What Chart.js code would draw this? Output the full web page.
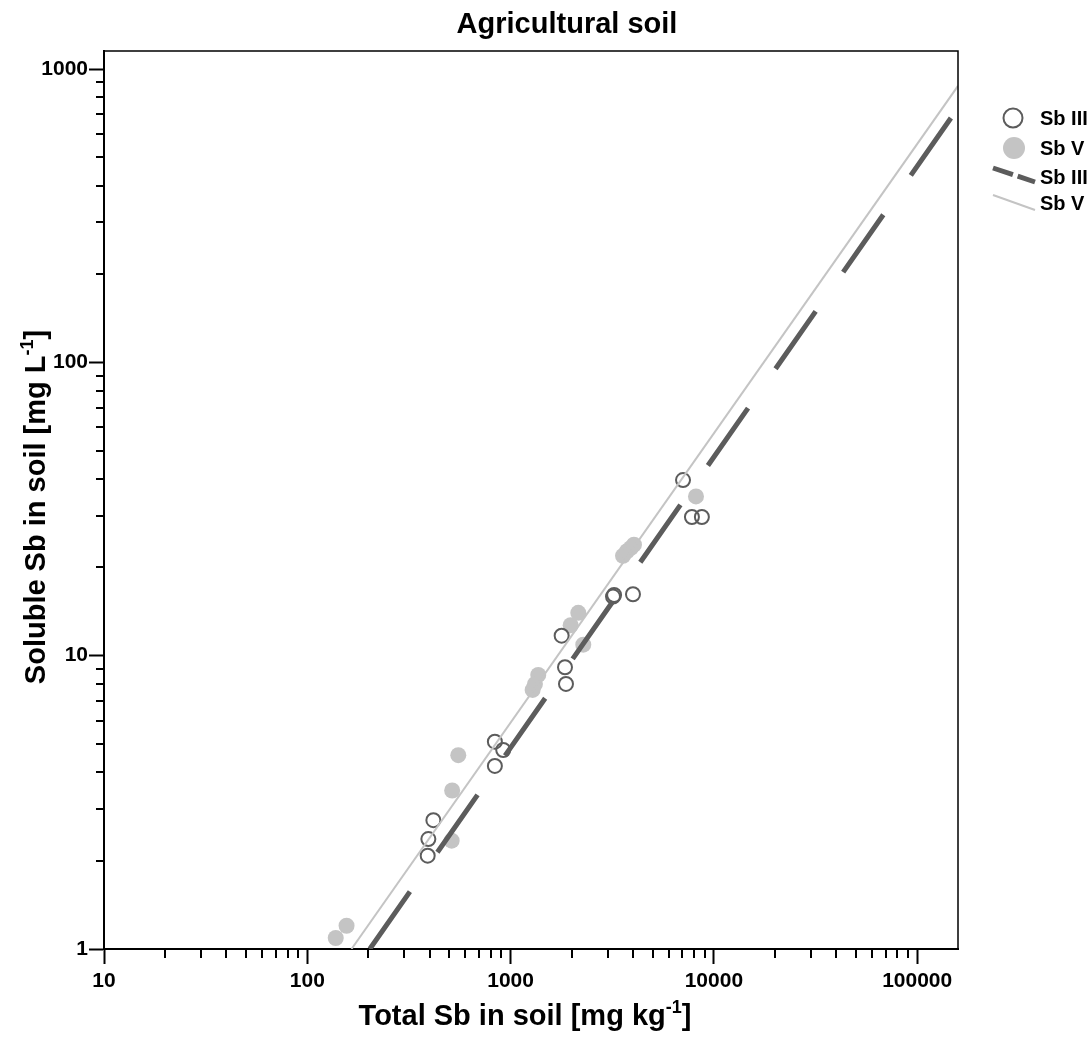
<!DOCTYPE html>
<html>
<head>
<meta charset="utf-8">
<title>Agricultural soil</title>
<script src="https://cdn.jsdelivr.net/npm/chart.js@4/dist/chart.umd.min.js"></script>
<style>
  html, body { margin: 0; padding: 0; background: #fff; }
  #wrap { width: 1092px; height: 1041px; position: relative; }
</style>
</head>
<body>
<div id="wrap"><canvas id="soilChart"></canvas></div>
<script>
// Sb III measured points (open circles)
const sb3Total = [7050, 7800, 8730, 3190, 3230, 4000, 1783, 1852, 1873, 837, 920, 837, 417, 394, 391];
const sb3Soluble = [39.7, 29.7, 29.7, 15.9, 16.1, 16.2, 11.7, 9.13, 8.01, 5.09, 4.77, 4.21, 2.75, 2.37, 2.08];

// Sb V measured points (filled grey)
const sb5Total = [8165, 3573, 3737, 3909, 4045, 2153, 1975, 2278, 1368, 1318, 1284, 553, 516, 513, 156, 138];
const sb5Soluble = [34.9, 21.9, 22.7, 23.3, 23.9, 14.0, 12.7, 10.9, 8.6, 8.0, 7.64, 4.58, 3.47, 2.34, 1.20, 1.09];

// regression lines (end points)
const fit3Total = [203, 158800];
const fit3Soluble = [1, 737];
const fit5Total = [165, 158800];
const fit5Soluble = [1, 876];

// axis ticks
const xTickLabels = [10, 100, 1000, 10000, 100000];
const yTickLabels = [1, 10, 100, 1000];
const X_MIN = 10, X_MAX = 158800;
const Y_MIN = 1, Y_MAX = 1152;

const FONT = "'Liberation Sans', Arial, sans-serif";
const DARK = '#5c5c5c';
const LIGHT = '#c4c4c4';

function pts(xs, ys) {
    return xs.map((x, i) => ({ x: x, y: ys[i] }));
}

function logTicks(majors, max) {
    const out = [];
    majors.forEach(m => {
        out.push({ value: m, major: true });
        for (let k = 2; k <= 9; k++) {
            if (m * k <= max) out.push({ value: m * k, major: false });
        }
    });
    return out.sort((a, b) => a.value - b.value);
}

// minor ticks, frame, titles and legend
const decorPlugin = {
    id: 'decor',
    afterDraw(chart) {
        const ctx = chart.ctx;
        const area = chart.chartArea;
        const xs = chart.scales.x, ys = chart.scales.y;
        ctx.save();

        // minor ticks
        ctx.strokeStyle = '#000';
        ctx.lineWidth = 2;
        xs.ticks.forEach(t => {
            if (xTickLabels.includes(t.value)) return;
            const px = Math.round(xs.getPixelForValue(t.value));
            ctx.beginPath();
            ctx.moveTo(px, area.bottom);
            ctx.lineTo(px, area.bottom + 9);
            ctx.stroke();
        });
        ys.ticks.forEach(t => {
            if (yTickLabels.includes(t.value)) return;
            const py = Math.round(ys.getPixelForValue(t.value));
            ctx.beginPath();
            ctx.moveTo(area.left, py);
            ctx.lineTo(area.left - 8, py);
            ctx.stroke();
        });

        // top and right frame
        ctx.lineWidth = 1.5;
        ctx.beginPath();
        ctx.moveTo(area.left, area.top);
        ctx.lineTo(area.right, area.top);
        ctx.lineTo(area.right, area.bottom);
        ctx.stroke();

        // chart title
        ctx.fillStyle = '#000';
        ctx.font = 'bold 29px ' + FONT;
        ctx.textAlign = 'center';
        ctx.textBaseline = 'alphabetic';
        ctx.fillText('Agricultural soil', 567, 33);

        // axis titles with superscript
        function supTitle(main, sup, tail, cx, baseY) {
            ctx.font = 'bold 29px ' + FONT;
            const w1 = ctx.measureText(main).width;
            const w3 = ctx.measureText(tail).width;
            ctx.font = 'bold 18px ' + FONT;
            const w2 = ctx.measureText(sup).width;
            let x0 = cx - (w1 + w2 + w3) / 2;
            ctx.textAlign = 'left';
            ctx.font = 'bold 29px ' + FONT;
            ctx.fillText(main, x0, baseY);
            ctx.font = 'bold 18px ' + FONT;
            ctx.fillText(sup, x0 + w1, baseY - 12);
            ctx.font = 'bold 29px ' + FONT;
            ctx.fillText(tail, x0 + w1 + w2, baseY);
        }
        supTitle('Total Sb in soil [mg kg', '-1', ']', 525, 1025);
        ctx.save();
        ctx.translate(45, 507);
        ctx.rotate(-Math.PI / 2);
        supTitle('Soluble Sb in soil [mg L', '-1', ']', 0, 0);
        ctx.restore();

        // legend
        ctx.strokeStyle = DARK;
        ctx.lineWidth = 2;
        ctx.beginPath();
        ctx.arc(1013, 118, 9.5, 0, Math.PI * 2);
        ctx.stroke();
        ctx.fillStyle = LIGHT;
        ctx.beginPath();
        ctx.arc(1014, 148, 11, 0, Math.PI * 2);
        ctx.fill();
        ctx.strokeStyle = DARK;
        ctx.lineWidth = 5;
        ctx.setLineDash([21, 5]);
        ctx.beginPath();
        ctx.moveTo(993, 168);
        ctx.lineTo(1035, 182);
        ctx.stroke();
        ctx.setLineDash([]);
        ctx.strokeStyle = LIGHT;
        ctx.lineWidth = 2;
        ctx.beginPath();
        ctx.moveTo(993, 195);
        ctx.lineTo(1035, 210);
        ctx.stroke();
        ctx.fillStyle = '#000';
        ctx.font = 'bold 20px ' + FONT;
        ctx.textAlign = 'left';
        ctx.textBaseline = 'middle';
        ctx.fillText('Sb III', 1040, 119);
        ctx.fillText('Sb V', 1040, 149);
        ctx.fillText('Sb III', 1040, 178);
        ctx.fillText('Sb V', 1040, 204);

        ctx.restore();
    }
};

function initChart() {
    const ctx = document.getElementById('soilChart').getContext('2d');
    new Chart(ctx, {
        type: 'scatter',
        data: {
            datasets: [
                {
                    label: 'Sb III',
                    data: pts(sb3Total, sb3Soluble),
                    pointRadius: 7,
                    pointBorderWidth: 2,
                    pointBorderColor: DARK,
                    pointBackgroundColor: 'rgba(0,0,0,0)',
                    order: 2
                },
                {
                    label: 'Sb V',
                    data: pts(sb5Total, sb5Soluble),
                    pointRadius: 8,
                    pointBorderWidth: 0,
                    pointBackgroundColor: LIGHT,
                    order: 3
                },
                {
                    label: 'Sb III fit',
                    data: pts(fit3Total, fit3Soluble),
                    showLine: true,
                    pointRadius: 0,
                    borderColor: DARK,
                    borderWidth: 5,
                    borderDash: [70, 48],
                    borderCapStyle: 'butt',
                    order: 0
                },
                {
                    label: 'Sb V fit',
                    data: pts(fit5Total, fit5Soluble),
                    showLine: true,
                    pointRadius: 0,
                    borderColor: LIGHT,
                    borderWidth: 2,
                    order: 1
                }
            ]
        },
        options: {
            responsive: true,
            maintainAspectRatio: false,
            animation: false,
            layout: { padding: { top: 51, right: 134, left: 0, bottom: 0 } },
            plugins: {
                legend: { display: false },
                title: { display: false },
                tooltip: { enabled: false }
            },
            scales: {
                x: {
                    type: 'logarithmic',
                    min: X_MIN,
                    max: X_MAX,
                    afterBuildTicks: s => { s.ticks = logTicks(xTickLabels, X_MAX); },
                    afterFit: s => { s.height = 92; },
                    border: { display: true, color: '#000', width: 2 },
                    grid: {
                        drawOnChartArea: false,
                        drawTicks: true,
                        tickLength: 15,
                        tickWidth: 2,
                        tickColor: c => (c.tick && xTickLabels.includes(c.tick.value)) ? '#000' : 'rgba(0,0,0,0)'
                    },
                    ticks: {
                        autoSkip: false,
                        maxRotation: 0,
                        padding: 5,
                        color: '#000',
                        font: { family: FONT, size: 21, weight: 'bold' },
                        callback: v => xTickLabels.includes(v) ? String(v) : ''
                    }
                },
                y: {
                    type: 'logarithmic',
                    min: Y_MIN,
                    max: Y_MAX,
                    afterBuildTicks: s => { s.ticks = logTicks(yTickLabels, Y_MAX); },
                    afterFit: s => { s.width = 104; },
                    border: { display: true, color: '#000', width: 2 },
                    grid: {
                        drawOnChartArea: false,
                        drawTicks: true,
                        tickLength: 15,
                        tickWidth: 2,
                        tickColor: c => (c.tick && yTickLabels.includes(c.tick.value)) ? '#000' : 'rgba(0,0,0,0)'
                    },
                    ticks: {
                        autoSkip: false,
                        padding: 1,
                        color: '#000',
                        font: { family: FONT, size: 21, weight: 'bold' },
                        callback: v => yTickLabels.includes(v) ? String(v) : ''
                    }
                }
            }
        },
        plugins: [decorPlugin]
    });
}

window.onload = initChart;
</script>
</body>
</html>
